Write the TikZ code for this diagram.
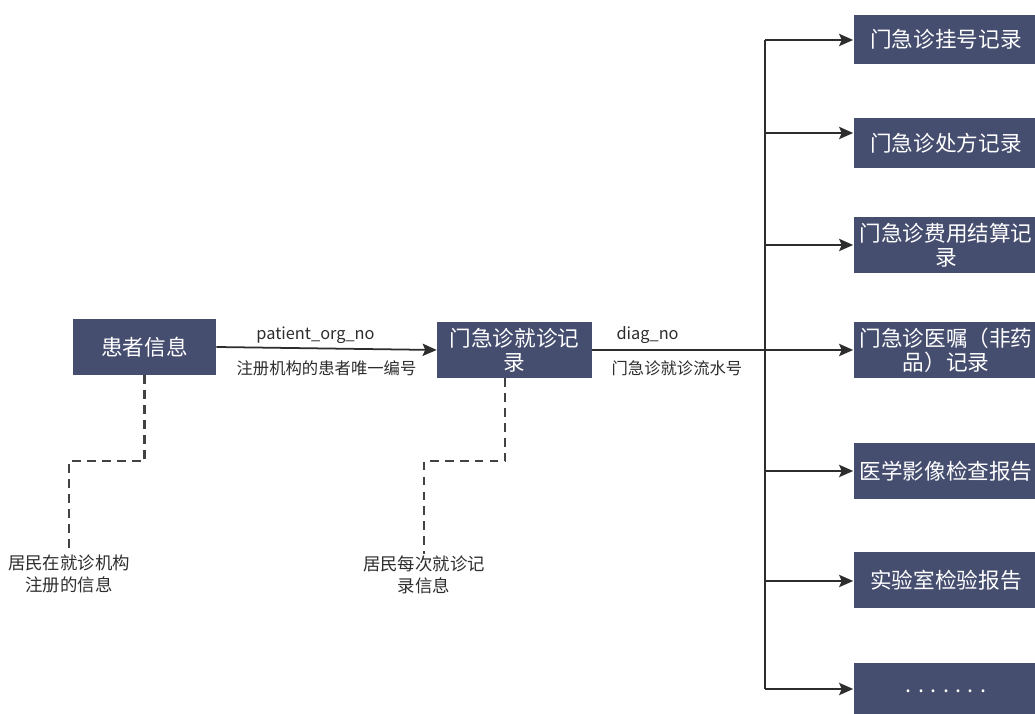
\documentclass[tikz,border=0pt]{standalone}
\usepackage{fontspec}
\setmainfont{Noto Sans CJK SC}
\usepackage{tikz}
\usetikzlibrary{arrows.meta}
\usepackage{xcolor}
\definecolor{boxblue}{RGB}{70,78,112}
\definecolor{linegray}{RGB}{45,45,45}

\begin{document}
\begin{tikzpicture}[>={Stealth[length=8pt,width=7pt,inset=1.5pt]},line cap=butt,
  tbl/.style={fill=boxblue,text=white,align=center,inner sep=0pt,font=\fontsize{12.3}{13.8}\selectfont},
  lbl/.style={font=\fontsize{9.3}{11}\selectfont,text=linegray},
  note/.style={align=center,font=\fontsize{9.9}{12.5}\selectfont,text=linegray,inner sep=1pt},
  link/.style={draw=linegray,line width=1pt},
  hint/.style={draw=linegray!90,line width=1.2pt,dash pattern=on 5pt off 3.5pt}]
\useasboundingbox (0,0) rectangle (20.7,14.26);
% left side
\node[tbl,minimum width=2.86cm,minimum height=1.12cm] (pat) at (2.89,7.32) {患者信息};
\node[tbl,minimum width=3.1cm,minimum height=1.12cm] (visit) at (10.29,7.26) {门急诊就诊记\\录};
\node[note] (n1) at (1.38,2.78) {居民在就诊机构\\注册的信息};
\node[note] (n2) at (8.48,2.76) {居民每次就诊记\\录信息};
% right column
\node[tbl,minimum width=3.7cm,minimum height=0.98cm] (reg) at (18.92,13.47) {门急诊挂号记录};
\node[tbl,minimum width=3.7cm,minimum height=1.0cm] (rx) at (18.92,11.40) {门急诊处方记录};
\node[tbl,minimum width=3.7cm,minimum height=1.12cm] (fee) at (18.92,9.36) {门急诊费用结算记\\录};
\node[tbl,minimum width=3.7cm,minimum height=1.12cm] (ord) at (18.92,7.26) {门急诊医嘱（非药\\品）记录};
\node[tbl,minimum width=3.7cm,minimum height=1.12cm] (img) at (18.92,4.84) {医学影像检查报告};
\node[tbl,minimum width=3.7cm,minimum height=1.12cm] (lab) at (18.92,2.66) {实验室检验报告};
\node[tbl,minimum width=3.7cm,minimum height=1.12cm] (more) at (18.92,0.44) {. . . . . . .};
% bus
\coordinate (t1) at (15.3,13.46);
\coordinate (t2) at (15.3,11.6);
\coordinate (t3) at (15.3,9.36);
\coordinate (t4) at (15.3,7.26);
\coordinate (t5) at (15.3,4.84);
\coordinate (t6) at (15.3,2.64);
\coordinate (t7) at (15.3,0.48);
\draw[link,line width=1.3pt] (t1) -- (t7);
\foreach \t/\b in {t1/reg,t2/rx,t3/fee,t4/ord,t5/img,t6/lab,t7/more}
  \draw[link,->] (\t) -- (\t -| \b.west);
% keys
\draw[link,->] (pat.east) -- node[lbl,pos=.45,yshift=0.26cm] (pid) {patient\_org\_no}
  node[lbl,pos=.5,yshift=-0.4cm] (pidcn) {注册机构的患者唯一编号} (visit.west);
\draw[link,line width=1.3pt] (visit.east) -- node[lbl,pos=.32,yshift=0.3cm] (did) {diag\_no}
  node[lbl,pos=.49,yshift=-0.36cm] (didcn) {门急诊就诊流水号} (t4);
% notes
\draw[hint] (pat.south) -- ++(0,-1.72) -| (n1.north);
\draw[hint] ([xshift=-0.19cm]visit.south) -- ++(0,-1.66) -| (n2.north);
\end{tikzpicture}
\end{document}
